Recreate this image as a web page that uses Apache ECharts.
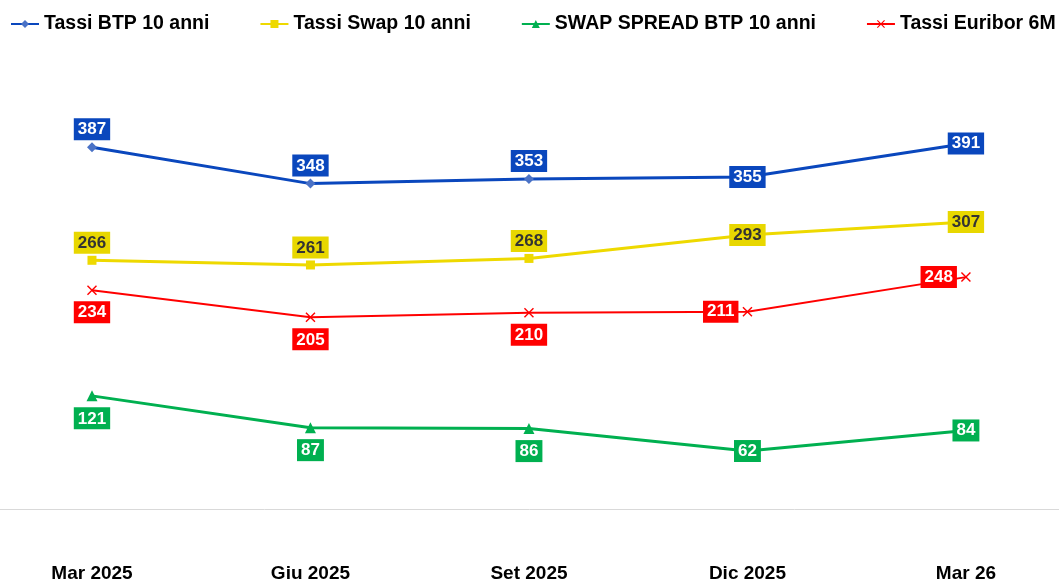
<!DOCTYPE html>
<html>
<head>
<meta charset="utf-8">
<script src="https://cdn.jsdelivr.net/npm/echarts@6/dist/echarts.min.js"></script>
<style>
  html, body { margin: 0; padding: 0; background: #fff; }
  #chart { width: 1059px; height: 583px; }
</style>
</head>
<body>
<div id="chart"></div>
<script>
// dati
var categories = ["Mar 2025", "Giu 2025", "Set 2025", "Dic 2025", "Mar 26"];
var btp10 = [387, 348, 353, 355, 391];
var swap10 = [266, 261, 268, 293, 307];
var spread10 = [121, 87, 86, 62, 84];
var euribor6m = [234, 205, 210, 211, 248];

// posizione delle etichette per punto
var btpPos = ["top", "top", "top", "inside", "inside"];
var swapPos = ["top", "top", "top", "inside", "inside"];
var spreadPos = ["bottom", "bottom", "bottom", "inside", "inside"];
var euriborPos = ["bottom", "bottom", "bottom", "left", "left"];

var FONT = "Liberation Sans, Arial, sans-serif";
var crossPath = "path://M0,1L1,0L5,4L9,0L10,1L6,5L10,9L9,10L5,6L1,10L0,9L4,5Z";
var catIdx = categories.map(function (c, i) { return i; });
var labelDist = { top: 2, bottom: 6, left: 4, inside: 0 };

// asse x numerico (indice della categoria) per far arrivare la linea dell'asse ai bordi
function makeData(values, positions) {
  return values.map(function (v, i) {
    return { value: [i, v], label: { position: positions[i], distance: labelDist[positions[i]] } };
  });
}

function labelStyle(bg, fg) {
  return {
    show: true,
    color: fg,
    backgroundColor: bg,
    fontFamily: FONT,
    fontWeight: "bold",
    fontSize: 17,
    padding: [3, 4, 2, 4],
    formatter: function (p) { return p.value[1]; }
  };
}

var myChart = echarts.init(document.getElementById("chart"));
myChart.setOption({
  animation: false,
  legend: {
    top: 14,
    left: 10,
    padding: 0,
    itemWidth: 28,
    itemHeight: 10,
    itemGap: 50,
    textStyle: { fontFamily: FONT, fontWeight: "bold", fontSize: 19.5, color: "#000" },
    data: ["Tassi BTP 10 anni", "Tassi Swap 10 anni", "SWAP SPREAD BTP 10 anni", "Tassi Euribor 6M"]
  },
  grid: { left: 0, right: 0, top: 135, bottom: 74 },
  xAxis: {
    type: "value",
    min: -0.421,
    max: 4.426,
    splitLine: { show: false },
    axisLine: { onZero: false, lineStyle: { color: "#d9d9d9", width: 1 } },
    axisTick: { show: false },
    axisLabel: {
      customValues: catIdx,
      margin: 55,
      fontFamily: FONT,
      fontWeight: "bold",
      fontSize: 19,
      color: "#000",
      formatter: function (v) { return categories[Math.round(v)]; }
    }
  },
  yAxis: { type: "value", min: 0, max: 400, show: false, splitLine: { show: false } },
  series: [
    {
      name: "Tassi BTP 10 anni",
      type: "line",
      data: makeData(btp10, btpPos),
      symbol: "diamond",
      symbolSize: 10,
      lineStyle: { color: "#0a47bd", width: 3 },
      itemStyle: { color: "#4a72c6" },
      label: labelStyle("#0a47bd", "#fff"),
      z: 4
    },
    {
      name: "Tassi Swap 10 anni",
      type: "line",
      data: makeData(swap10, swapPos),
      symbol: "rect",
      symbolSize: 9,
      lineStyle: { color: "#eed900", width: 3 },
      itemStyle: { color: "#eed900" },
      label: labelStyle("#e8d700", "#333"),
      z: 3
    },
    {
      name: "SWAP SPREAD BTP 10 anni",
      type: "line",
      data: makeData(spread10, spreadPos),
      symbol: "triangle",
      symbolSize: 11,
      lineStyle: { color: "#00b050", width: 3 },
      itemStyle: { color: "#00b050" },
      label: labelStyle("#00b050", "#fff"),
      z: 3
    },
    {
      name: "Tassi Euribor 6M",
      type: "line",
      data: makeData(euribor6m, euriborPos),
      symbol: crossPath,
      symbolSize: 10,
      lineStyle: { color: "#ff0000", width: 2 },
      itemStyle: { color: "#ff0000" },
      label: labelStyle("#ff0000", "#fff"),
      z: 3
    }
  ]
});
window.addEventListener("resize", function () {
  myChart.resize();
});
</script>
</body>
</html>
